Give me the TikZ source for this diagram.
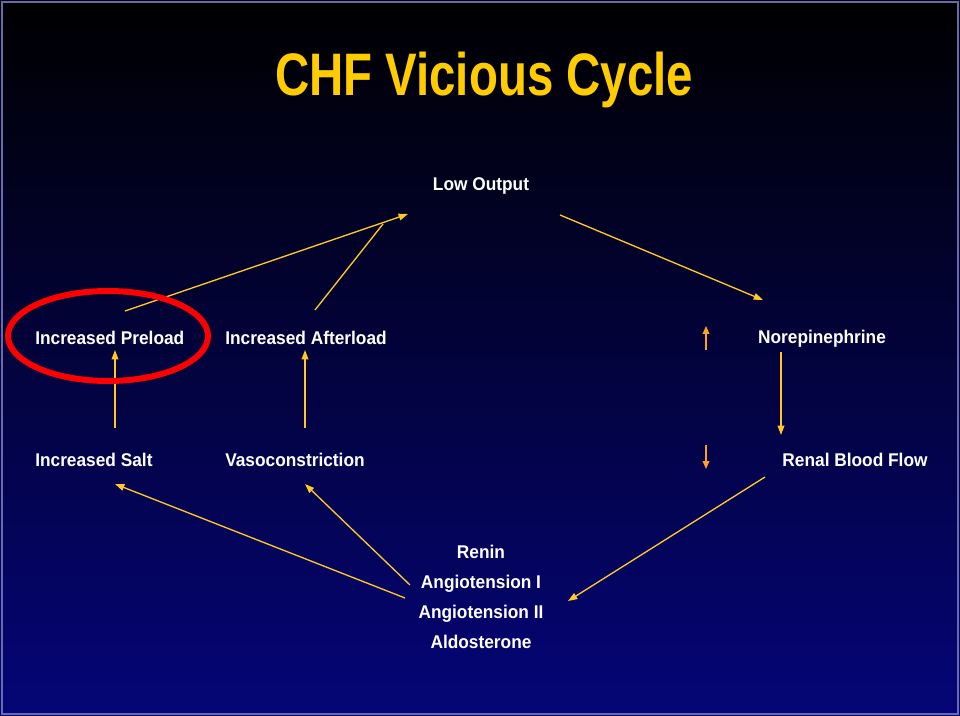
\documentclass[tikz,border=0pt]{standalone}
\usepackage{fontspec}
\setmainfont{Liberation Sans}
\usetikzlibrary{arrows.meta}
\definecolor{ttl}{RGB}{255,204,0}
\definecolor{ln}{RGB}{255,200,40}
\definecolor{orng}{RGB}{255,160,40}
\definecolor{navy}{RGB}{5,5,120}
\tikzset{
 lbl/.style={text=white,font=\bfseries\fontsize{13.8}{16}\selectfont,inner sep=0pt},
 conn/.style={ln,line width=1pt,-{Triangle[length=7pt,width=5pt]}},
 plain/.style={ln,line width=1pt},
 small/.style={orng,line width=1pt,-{Triangle[length=6pt,width=5pt]}}
}
\newcommand{\nar}[1]{\scalebox{0.94}[1]{#1}}
\begin{document}
\begin{tikzpicture}[x=0.75pt,y=-0.75pt]
\shade[top color=black,bottom color=navy] (0,0) rectangle (960,716);
\draw[white!40!navy,line width=1pt] (2,2) rectangle (958,714);
\useasboundingbox (0,0) rectangle (960,716);
\node[text=ttl,font=\bfseries\fontsize{45}{48}\selectfont,inner sep=0pt] (title) at (484,80) {\scalebox{0.79}[1]{CHF Vicious Cycle}};
\node[lbl] (lo) at (481,186) {\nar{Low Output}};
\node[lbl,anchor=west] (ip) at (35,338) {\nar{Increased Preload}};
\node[lbl,anchor=west] (ia) at (225,338) {\nar{Increased Afterload}};
\node[lbl] (ne) at (822,339) {\nar{Norepinephrine}};
\node[lbl,anchor=west] (is) at (35,460) {\nar{Increased Salt}};
\node[lbl,anchor=west] (vc) at (225,460) {\nar{Vasoconstriction}};
\node[lbl] (rbf) at (855,460) {\nar{Renal Blood Flow}};
\node[lbl,align=center,font=\bfseries\fontsize{13.8}{22.5}\selectfont] (ra) at (481,597) {\nar{Renin}\\\nar{Angiotension I}\\\nar{Angiotension II}\\\nar{Aldosterone}};
\coordinate (a1) at (125,311); \coordinate (a2) at (408,214);
\coordinate (b1) at (315,310); \coordinate (b2) at (383,224);
\coordinate (c1) at (560,215); \coordinate (c2) at (763,300);
\coordinate (d1) at (115,428); \coordinate (d2) at (115,350);
\coordinate (e1) at (305,428); \coordinate (e2) at (305,350);
\coordinate (f1) at (781,352); \coordinate (f2) at (781,435);
\coordinate (g1) at (706,350); \coordinate (g2) at (706,326);
\coordinate (h1) at (706,445); \coordinate (h2) at (706,469);
\coordinate (i1) at (405,598); \coordinate (i2) at (115,484);
\coordinate (j1) at (410,585); \coordinate (j2) at (305,484);
\coordinate (k1) at (765,477); \coordinate (k2) at (568,601);
\draw[conn] (a1) -- (a2);
\draw[plain] (b1) -- (b2);
\draw[conn] (c1) -- (c2);
\draw[conn] (d1) -- (d2);
\draw[conn] (e1) -- (e2);
\draw[conn] (f1) -- (f2);
\draw[small] (g1) -- (g2);
\draw[small] (h1) -- (h2);
\draw[conn] (i1) -- (i2);
\draw[conn] (j1) -- (j2);
\draw[conn] (k1) -- (k2);
\draw[red,line width=4.5pt] (108,336) ellipse [x radius=100, y radius=45];
\end{tikzpicture}
\end{document}
